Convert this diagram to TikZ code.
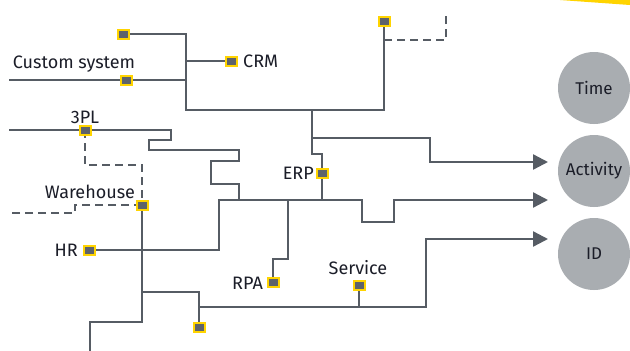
\documentclass[tikz,border=0pt]{standalone}
\usepackage{fontspec}
\setmainfont{Fira Sans}
\usetikzlibrary{arrows.meta}
\definecolor{ln}{HTML}{565C64}
\definecolor{ey}{HTML}{FFD400}
\definecolor{sqf}{HTML}{5E636B}
\definecolor{cf}{HTML}{A9ADB1}
\definecolor{tx}{HTML}{1B1D28}
\tikzset{
  wire/.style={draw=ln,line width=2.4pt},
  dwire/.style={draw=ln,line width=2.4pt,dash pattern=on 8pt off 5pt},
  arr/.style={wire,-{Triangle[length=15pt,width=15pt]}},
  sq/.style={rectangle,draw=ey,fill=sqf,line width=2pt,minimum width=11pt,minimum height=9pt,inner sep=0pt},
  lab/.style={text=tx,font=\fontsize{18}{20}\selectfont,inner sep=0pt},
  circ/.style={circle,fill=cf,minimum size=72pt,inner sep=0pt,text=tx,font=\fontsize{17}{19}\selectfont}
}
\begin{document}
\begin{tikzpicture}[x=1pt,y=-1pt]
\clip (0,0) rectangle (630,351);
\fill[white] (0,0) rectangle (630,351);
\fill[ey] (560,0) -- (630,0) -- (630,5) -- cycle;
% square positions
\coordinate (p1) at (123,34);
\coordinate (pCRM) at (231,61);
\coordinate (pCS) at (126,80);
\coordinate (p3PL) at (85,130);
\coordinate (pTop) at (384,21);
\coordinate (pERP) at (322,173);
\coordinate (pWH) at (142,205);
\coordinate (pHR) at (89,250);
\coordinate (pRPA) at (273,282);
\coordinate (pSvc) at (359,285);
\coordinate (pBot) at (199,327);
% circles
\node[circ] (time) at (594,88) {Time};
\node[circ] (act) at (594,171) {Activity};
\node[circ] (id) at (594,254) {ID};
\coordinate (tA) at (548,162);
\coordinate (tB) at (548,200);
\coordinate (tC) at (548,239);
% free ends
\coordinate (csL) at (9,80);
\coordinate (tplL) at (9,130);
\coordinate (whL) at (9,213);
\coordinate (botE) at (90,352);
% solid wires
\draw[wire] (p1) -- (186,34) -- (186,110) -- (384,110) -- (pTop);
\draw[wire] (186,61) -- (pCRM);
\draw[wire] (csL) -- (pCS) -- (186,80);
\draw[wire] (312,110) -- (312,154) -- (322,154) -- (pERP) -- (322,200);
\draw[arr] (312,138) -- (430,138) -- (430,162) -- (tA);
\draw[wire] (tplL) -- (p3PL) -- (171,130) -- (171,140) -- (149,140) -- (149,150) -- (239,150) -- (239,161) -- (211,161) -- (211,184) -- (239,184) -- (239,200);
\draw[arr] (pHR) -- (219,250) -- (219,200) -- (362,200) -- (362,222) -- (394,222) -- (394,200) -- (tB);
\draw[wire] (288,200) -- (288,259) -- (273,259) -- (pRPA);
\draw[wire] (pWH) -- (142,322) -- (90,322) -- (botE);
\draw[wire] (142,292) -- (199,292) -- (pBot);
\draw[arr] (199,307) -- (426,307) -- (426,239) -- (tC);
\draw[wire] (pSvc) -- (359,307);
% dashed wires
\draw[dwire] (p3PL) -- (85,165) -- (142,165) -- (pWH);
\draw[dwire] (pWH) -- (75,205) -- (75,213) -- (whL);
\draw[dwire] (384,40) -- (446,40) -- (446,12);
% squares
\foreach \n in {p1,pCRM,pCS,p3PL,pTop,pERP,pWH,pHR,pRPA,pSvc,pBot}
  \node[sq] (s\n) at (\n) {};
% labels
\node[lab] (lCS) at (74,64) {Custom system};
\node[lab,anchor=west] (lCRM) at (243,61) {CRM};
\node[lab] (l3PL) at (85,117) {3PL};
\node[lab,anchor=east] (lERP) at (314,173) {ERP};
\node[lab] (lWH) at (90,192) {Warehouse};
\node[lab,anchor=east] (lHR) at (78,250) {HR};
\node[lab,anchor=east] (lRPA) at (263,283) {RPA};
\node[lab] (lSvc) at (358,268) {Service};
\end{tikzpicture}
\end{document}
